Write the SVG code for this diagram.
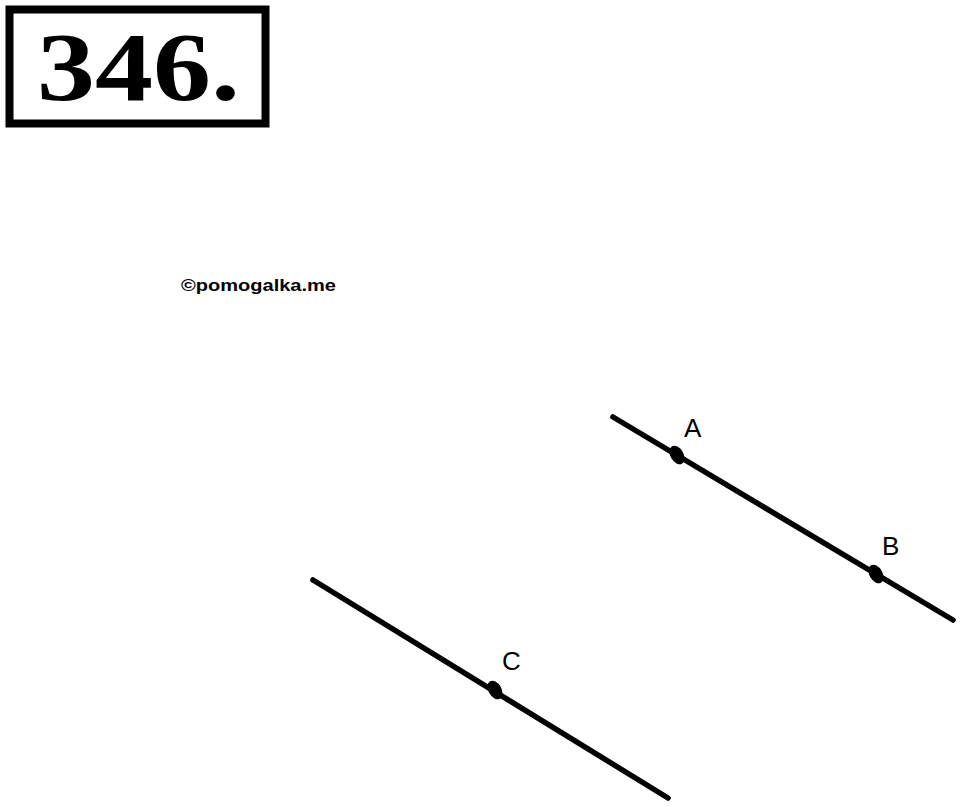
<svg xmlns="http://www.w3.org/2000/svg" width="960" height="807" viewBox="0 0 960 807">
<style>
.ln{stroke:#000;stroke-width:5.5;stroke-linecap:round;fill:none}
.lbl{font-family:"Liberation Sans",Arial,sans-serif;font-size:26px;fill:#000}
.dot{fill:#000}
</style>
<rect width="960" height="807" fill="#fff"/>
<g id="title">
<rect x="9.5" y="9.5" width="256" height="114" fill="none" stroke="#000" stroke-width="8"/>
<text x="37" y="100" font-family="'Liberation Serif','Times New Roman',serif" font-weight="bold" font-size="98" textLength="203" lengthAdjust="spacingAndGlyphs">346.</text>
</g>
<text id="watermark" x="181" y="291" font-family="'Liberation Sans',Arial,sans-serif" font-weight="bold" font-size="17" textLength="155" lengthAdjust="spacingAndGlyphs">©pomogalka.me</text>
<g id="connectors">
<line class="ln" x1="613" y1="417" x2="953" y2="620"/>
<line class="ln" x1="313" y1="580" x2="668" y2="798"/>
</g>
<g id="A">
<ellipse class="dot" cx="677" cy="455" rx="6.5" ry="10" transform="rotate(-30 677 455)"/>
<text class="lbl" x="684" y="437">A</text>
</g>
<g id="B">
<ellipse class="dot" cx="876" cy="574" rx="6.5" ry="10" transform="rotate(-30 876 574)"/>
<text class="lbl" x="882" y="555">B</text>
</g>
<g id="C">
<ellipse class="dot" cx="495" cy="690" rx="6.5" ry="10" transform="rotate(-30 495 690)"/>
<text class="lbl" x="502" y="670">C</text>
</g>
</svg>
